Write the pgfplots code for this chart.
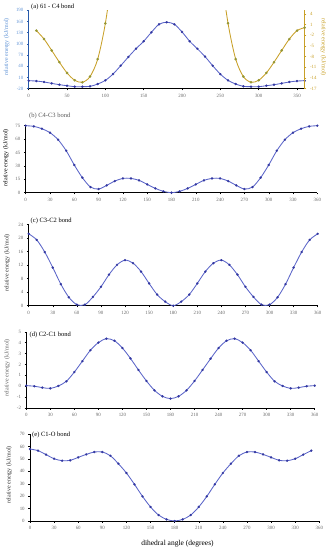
\documentclass[border=0pt]{standalone}
\usepackage{fontspec}
\setmainfont{Liberation Serif}
\usepackage{pgfplots}
\pgfplotsset{compat=1.18}
\definecolor{bline}{RGB}{90,100,200}
\definecolor{bmark}{RGB}{50,55,160}
\definecolor{gline}{RGB}{200,160,40}
\definecolor{gmark}{RGB}{150,150,50}
\definecolor{axblue}{RGB}{40,90,170}
\definecolor{lblblue}{RGB}{100,150,215}
\definecolor{tickgray}{RGB}{105,105,105}
\pgfplotsset{
 panel/.style={
  scale only axis, xmin=0, xmax=360,
  axis x line*=bottom, axis y line*=left,
  axis line style={-, black, line width=0.6pt},
  tick align=outside, major tick length=1.8pt,
  tick style={black, line width=0.4pt},
  tick label style={font=\fontsize{4.9}{5}\selectfont, text=tickgray},
  /pgf/number format/assume math mode=true,
  xtick={0,30,...,360},
 },
 bser/.style={color=bline, line width=0.85pt, smooth, mark=*, mark size=1.1pt, mark options={draw=bmark, fill=bmark, line width=0.2pt}},
}
\begin{document}
\begin{tikzpicture}[x=1pt,y=1pt]
\path[use as bounding box] (0,0) rectangle (331,550);
% ---------------- (a)
\begin{axis}[panel, at={(28.7pt,461.3pt)}, anchor=south west, width=276pt, height=78.4pt,
 ymin=-20, ymax=190, ytick={-20,10,...,190}, xtick={0,50,...,350},
 y axis line style={axblue}, yticklabel style={text=lblblue}, ytick style={axblue}]
\addplot[bser] coordinates {
(0,1.4)(10,0.5)(20,-2)(30,-5.7)(40,-9.3)(50,-12)(60,-14.6)(70,-14.6)(80,-13.7)(90,-7.5)
(100,2.3)(110,19.3)(120,41.6)(130,65)(140,87.2)(150,107)(160,131)(170,152.5)(180,158)
(190,152.5)(200,132)(210,107)(220,87)(230,66)(240,41.6)(250,19)(260,2.3)(270,-7.5)
(280,-13.7)(290,-14.6)(300,-14.6)(310,-12)(320,-9.3)(330,-5.7)(340,-2)(350,0.5)(360,1.4)};
\end{axis}
\begin{axis}[scale only axis, at={(28.7pt,461.3pt)}, anchor=south west, width=276pt, height=78.4pt,
 xmin=0, xmax=360, ymin=-17, ymax=5, axis x line=none, axis y line*=right,
 axis line style={-, gline, line width=0.6pt}, ytick={-17,-14,...,4},
 tick align=outside, major tick length=1.8pt, tick style={gline, line width=0.4pt},
 tick label style={font=\fontsize{4.9}{5}\selectfont, text=gline},
 /pgf/number format/assume math mode=true]
\addplot[gline, line width=0.85pt, smooth] coordinates {
(10,-0.7)(20,-3.06)(30,-6.26)(40,-9.56)(50,-12.57)(60,-14.64)(70,-15.2)(80,-13.6)(90,-8.7)(100,1.36)(110,17)(120,40)};
\addplot[gline, line width=0.85pt, smooth] coordinates {
(240,40)(250,17)(260,1.36)(270,-8.7)(280,-13.6)(290,-15.2)(300,-14.64)(310,-12.57)(320,-9.56)(330,-6.26)(340,-3.06)(350,-0.7)(360,0.13)};
\addplot[only marks, mark=*, mark size=1.1pt, draw=gmark, fill=gmark] coordinates {
(10,-0.7)(20,-3.06)(30,-6.26)(40,-9.56)(50,-12.57)(60,-14.64)(70,-15.2)(80,-13.6)(90,-8.7)(100,1.36)
(260,1.36)(270,-8.7)(280,-13.6)(290,-15.2)(300,-14.64)(310,-12.57)(320,-9.56)(330,-6.26)(340,-3.06)(350,-0.7)(360,0.13)};
\end{axis}
% ---------------- (b)
\begin{axis}[panel, at={(25.7pt,357.3pt)}, anchor=south west, width=291.6pt, height=67pt,
 ymin=0, ymax=75, ytick={0,15,...,75}]
\addplot[bser] coordinates {
(0,75)(10,74.25)(20,71.6)(30,67.2)(40,59.3)(50,47)(60,31)(70,16.8)(80,6.3)(90,4.1)
(100,8.2)(110,13)(120,16)(130,16)(140,13.8)(150,9.3)(160,4.85)(170,1.5)(180,0)
(190,1.5)(200,4.85)(210,9.3)(220,13.8)(230,16)(240,16)(250,13)(260,8.2)(270,4.1)
(280,6.3)(290,16.8)(300,31)(310,47)(320,59.3)(330,67.2)(340,71.6)(350,74.25)(360,75)};
\end{axis}
% ---------------- (c)
\begin{axis}[panel, at={(28.7pt,244.3pt)}, anchor=south west, width=289pt, height=81pt,
 ymin=0, ymax=24, ytick={0,4,...,24}]
\addplot[bser] coordinates {
(0,21.3)(10,19.5)(20,15.9)(30,11.3)(40,6.4)(50,2.5)(60,0.3)(70,0.3)(80,2.6)(90,5.6)
(100,9.2)(110,12.1)(120,13.5)(130,12.6)(140,10.1)(150,6.6)(160,3.3)(170,1.2)(180,0)
(190,1.2)(200,3.3)(210,6.6)(220,10.1)(230,12.6)(240,13.5)(250,12.1)(260,9.2)(270,5.6)
(280,2.6)(290,0.3)(300,0.3)(310,2.5)(320,6.4)(330,11.3)(340,15.9)(350,19.5)(360,21.3)};
\end{axis}
% ---------------- (d)
\begin{axis}[panel, at={(26.3pt,142pt)}, anchor=south west, width=288.4pt, height=76.3pt,
 ymin=-2, ymax=5, ytick={-2,-1,...,5}]
\addplot[bser] coordinates {
(0,0.05)(10,0)(20,-0.13)(30,-0.2)(40,0.02)(50,0.45)(60,1.3)(70,2.3)(80,3.3)(90,4.0)
(100,4.36)(110,4.17)(120,3.5)(130,2.55)(140,1.49)(150,0.48)(160,-0.38)(170,-0.93)(180,-1.14)
(190,-0.93)(200,-0.38)(210,0.48)(220,1.49)(230,2.52)(240,3.5)(250,4.17)(260,4.36)(270,4.0)
(280,3.3)(290,2.3)(300,1.3)(310,0.45)(320,0.02)(330,-0.2)(340,-0.13)(350,0)(360,0.05)};
\end{axis}
% ---------------- (e)
\begin{axis}[panel, at={(30pt,29pt)}, anchor=south west, width=289.3pt, height=87pt,
 ymin=0, ymax=70, ytick={0,10,...,70}]
\addplot[bser] coordinates {
(0,57.9)(10,56.6)(20,53.4)(30,50.1)(40,48.5)(50,48.8)(60,51.2)(70,53.6)(80,55.5)(90,55.5)
(100,52.5)(110,46.1)(120,38.6)(130,29.5)(140,19.8)(150,11.3)(160,4.8)(170,1.3)(180,0)
(190,1.3)(200,4.8)(210,11.3)(220,19.8)(230,29.5)(240,38.6)(250,46.1)(260,52.5)(270,55.5)
(280,55.5)(290,53.6)(300,51.2)(310,48.8)(320,48.5)(330,50.1)(340,53.4)(350,56.6)};
\end{axis}
% ---------------- titles and labels
\begin{scope}[font=\fontsize{6.5}{7}\selectfont]
\node[anchor=west, inner sep=0pt] at (31,543.3) {(a) 61 - C4 bond};
\node[anchor=west, inner sep=0pt, text=black!65] at (29,434.3) {(b) C4-C3 bond};
\node[anchor=west, inner sep=0pt] at (30.5,329.3) {(c) C3-C2 bond};
\node[anchor=west, inner sep=0pt] at (29.5,215) {(d) C2-C1 bond};
\node[anchor=west, inner sep=0pt] at (32,115) {(e) C1-O bond};
\end{scope}
\begin{scope}[font=\fontsize{6}{7}\selectfont, inner sep=0pt]
\node[rotate=90, text=lblblue] at (6.7,503) {relative energy (kJ/mol)};
\node[rotate=-90, text=gline] at (323.3,503) {relative energy (kJ/mol)};
\node[rotate=90] at (6,392) {relative energy (kJ/mol)};
\node[rotate=90, text=black!80] at (7.3,287) {relative energy (kJ/mol)};
\node[rotate=90, text=black!60] at (7.3,182) {relative energy (kJ/mol)};
\node[rotate=90, text=black!80] at (9.3,75) {relative energy (kJ/mol)};
\end{scope}
\node[font=\fontsize{7.5}{8}\selectfont, inner sep=0pt] at (177.5,6) {dihedral angle (degrees)};
\end{tikzpicture}
\end{document}
